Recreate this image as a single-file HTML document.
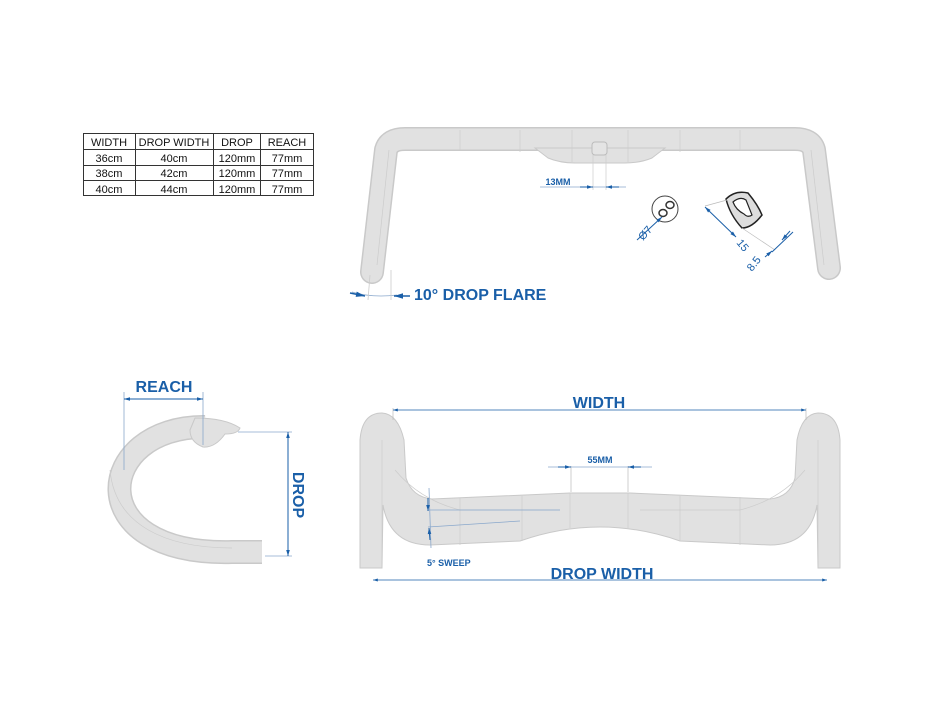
<!DOCTYPE html>
<html><head><style>
body{margin:0;background:#fff;}
svg{display:block;font-family:"Liberation Sans",sans-serif;}
</style></head><body>
<svg width="943" height="707" viewBox="0 0 943 707">
<defs>
<marker id="a" viewBox="0 0 10 10" refX="10" refY="5" markerWidth="9" markerHeight="6" orient="auto-start-reverse"><path d="M0,2 L10,5 L0,8 Z" fill="#1a5fa8"/></marker>
</defs>
<g stroke="#333" stroke-width="1" fill="none">
<rect x="83.5" y="133.5" width="230" height="62"/>
<line x1="83" y1="149.5" x2="314" y2="149.5"/><line x1="83" y1="165.5" x2="314" y2="165.5"/><line x1="83" y1="180.5" x2="314" y2="180.5"/>
<line x1="135.5" y1="133" x2="135.5" y2="196"/><line x1="213.5" y1="133" x2="213.5" y2="196"/><line x1="260.5" y1="133" x2="260.5" y2="196"/>
</g>
<g font-size="11" fill="#111" text-anchor="middle">
<text x="109" y="146">WIDTH</text><text x="174" y="146">DROP WIDTH</text><text x="237" y="146">DROP</text><text x="287" y="146">REACH</text>
<text x="109" y="162">36cm</text><text x="174" y="162">40cm</text><text x="237" y="162">120mm</text><text x="287" y="162">77mm</text>
<text x="109" y="177">38cm</text><text x="174" y="177">42cm</text><text x="237" y="177">120mm</text><text x="287" y="177">77mm</text>
<text x="109" y="193">40cm</text><text x="174" y="193">44cm</text><text x="237" y="193">120mm</text><text x="287" y="193">77mm</text>
</g>

<g fill="none" stroke-linecap="round" stroke-linejoin="round">
<path d="M372,272 L386,150 Q389,139 405,139 L795,139 Q811,139 814,150 L829,268" stroke="#c9c9c9" stroke-width="24"/>
<path d="M372,272 L386,150 Q389,139 405,139 L795,139 Q811,139 814,150 L829,268" stroke="#e1e1e1" stroke-width="21"/>
</g>
<path d="M535,148 L548,158 Q560,163 575,163 L625,163 Q640,163 652,158 L665,148 Z" fill="#e1e1e1" stroke="#c9c9c9"/>
<rect x="592" y="142" width="15" height="13" rx="3" fill="#e4e4e4" stroke="#bbb"/>
<g stroke="#ccc" stroke-width="0.7">
<line x1="460" y1="130" x2="460" y2="150"/><line x1="520" y1="130" x2="520" y2="152"/><line x1="572" y1="130" x2="572" y2="162"/><line x1="628" y1="130" x2="628" y2="162"/><line x1="680" y1="130" x2="680" y2="152"/><line x1="740" y1="130" x2="740" y2="150"/>
<line x1="593" y1="155" x2="593" y2="190"/><line x1="606" y1="155" x2="606" y2="190"/>
<line x1="389" y1="150" x2="377" y2="265"/><line x1="811" y1="150" x2="824" y2="265"/>
</g>
<line x1="540" y1="187" x2="626" y2="187" stroke="#8aa8cc" stroke-width="0.7"/>
<line x1="580" y1="187" x2="593" y2="187" stroke="#1a5fa8" marker-end="url(#a)"/>
<line x1="619" y1="187" x2="606" y2="187" stroke="#1a5fa8" marker-end="url(#a)"/>
<text x="558" y="185" font-size="9" font-weight="bold" fill="#1a5fa8" text-anchor="middle">13MM</text>
<path d="M352,292 Q372,298 397,295" fill="none" stroke="#8aa8cc" stroke-width="0.8"/>
<line x1="391" y1="270" x2="391" y2="300" stroke="#ccc" stroke-width="0.8"/>
<line x1="370" y1="275" x2="368" y2="300" stroke="#ccc" stroke-width="0.8"/>
<line x1="350" y1="293" x2="365" y2="296" stroke="#1a5fa8" stroke-width="1.5" marker-end="url(#a)"/>
<line x1="410" y1="296" x2="394" y2="296" stroke="#1a5fa8" stroke-width="1.5" marker-end="url(#a)"/>
<text x="414" y="300" font-size="16" font-weight="bold" fill="#1a5fa8">10° DROP FLARE</text>
<circle cx="665" cy="209" r="13" fill="#fff" stroke="#444"/>
<ellipse cx="670" cy="205" rx="4" ry="3.5" fill="#fff" stroke="#333" stroke-width="1.5"/>
<ellipse cx="663" cy="213" rx="4" ry="3.5" fill="#fff" stroke="#333" stroke-width="1.5"/>
<line x1="637" y1="240" x2="662" y2="217" stroke="#1a5fa8" marker-end="url(#a)"/>
<text x="0" y="0" font-size="11" fill="#1a5fa8" transform="translate(643,241) rotate(-48)">Ø7</text>
<path d="M726,199 Q735,190 748,193 Q758,205 762,215 Q752,228 742,228 Q730,215 726,199 Z" fill="#ddd" stroke="#222" stroke-width="1.5"/>
<path d="M733,202 Q740,196 746,200 L752,215 Q748,218 744,214 Q736,210 733,202 Z" fill="#fff" stroke="#222" stroke-width="1.2"/>
<line x1="705" y1="206" x2="727" y2="200" stroke="#bbb" stroke-width="0.7"/>
<line x1="742" y1="228" x2="775" y2="250" stroke="#bbb" stroke-width="0.7"/>
<line x1="705" y1="207" x2="736" y2="237" stroke="#1a5fa8" marker-start="url(#a)" marker-end="url(#a)"/>
<line x1="793" y1="232" x2="772" y2="252" stroke="#1a5fa8"/>
<line x1="790" y1="231" x2="782" y2="240" stroke="#1a5fa8" marker-end="url(#a)"/>
<line x1="765" y1="257" x2="772" y2="251" stroke="#1a5fa8" marker-end="url(#a)"/>
<text font-size="11" fill="#1a5fa8" transform="translate(736,243) rotate(50)">15</text>
<text font-size="11" fill="#1a5fa8" transform="translate(752,272) rotate(-52)">8.5</text>

<path d="M205,427 C95,426 78,556 232,552 L262,552" fill="none" stroke="#c9c9c9" stroke-width="24"/>
<path d="M205,427 C95,426 78,556 232,552 L262,552" fill="none" stroke="#e1e1e1" stroke-width="21"/>
<path d="M195,418 Q225,418 240,428 Q238,434 225,434 Q215,448 203,447 Q190,442 190,430 Z" fill="#e1e1e1" stroke="#c9c9c9"/>
<path d="M110,470 C115,525 165,548 232,548" fill="none" stroke="#ccc" stroke-width="0.7"/>
<line x1="124" y1="392" x2="124" y2="470" stroke="#8aa8cc" stroke-width="0.8"/>
<line x1="203" y1="392" x2="203" y2="445" stroke="#8aa8cc" stroke-width="0.8"/>
<line x1="124" y1="399" x2="203" y2="399" stroke="#1a5fa8" marker-start="url(#a)" marker-end="url(#a)"/>
<text x="164" y="392" font-size="16" font-weight="bold" fill="#1a5fa8" text-anchor="middle">REACH</text>
<line x1="238" y1="432" x2="292" y2="432" stroke="#8aa8cc" stroke-width="0.8"/>
<line x1="265" y1="556" x2="292" y2="556" stroke="#8aa8cc" stroke-width="0.8"/>
<line x1="288" y1="432" x2="288" y2="556" stroke="#1a5fa8" marker-start="url(#a)" marker-end="url(#a)"/>
<text font-size="16" font-weight="bold" fill="#1a5fa8" text-anchor="middle" transform="translate(293,495) rotate(90)">DROP</text>

<path d="M360,568 L360,440 Q362,413 382,413 Q398,414 404,440 L406,478 Q412,497 432,499 L570,493 L630,493 L770,499 Q790,497 795,478 L797,440 Q802,414 818,413 Q838,413 840,440 L840,568 L818,568 L817,505 Q810,545 770,545 L680,541 Q640,527 600,527 Q560,527 520,541 L430,545 Q390,545 383,505 L382,568 Z" fill="#e1e1e1" stroke="#c9c9c9"/>
<g stroke="#ccc" stroke-width="0.7" fill="none">
<line x1="382" y1="440" x2="382" y2="568"/><line x1="818" y1="440" x2="818" y2="568"/>
<line x1="460" y1="498" x2="460" y2="545"/><line x1="522" y1="496" x2="522" y2="541"/><line x1="570" y1="493" x2="570" y2="528"/><line x1="628" y1="493" x2="628" y2="528"/><line x1="680" y1="496" x2="680" y2="541"/><line x1="740" y1="497" x2="740" y2="545"/>
<path d="M395,470 Q420,500 460,510 L560,510"/>
<path d="M805,470 Q780,500 740,510 L640,510"/>
</g>
<line x1="428" y1="510" x2="560" y2="510" stroke="#8aa8cc" stroke-width="0.8"/>
<line x1="428" y1="527" x2="520" y2="521" stroke="#8aa8cc" stroke-width="0.8"/>
<line x1="429" y1="488" x2="431" y2="548" stroke="#8aa8cc" stroke-width="0.8"/>
<line x1="428" y1="498" x2="428" y2="511" stroke="#1a5fa8" marker-end="url(#a)"/>
<line x1="430" y1="540" x2="429" y2="528" stroke="#1a5fa8" marker-end="url(#a)"/>
<text x="427" y="566" font-size="9" font-weight="bold" fill="#1a5fa8">5° SWEEP</text>
<line x1="571" y1="466" x2="571" y2="492" stroke="#bbb" stroke-width="0.7"/>
<line x1="628" y1="466" x2="628" y2="492" stroke="#bbb" stroke-width="0.7"/>
<line x1="548" y1="467" x2="652" y2="467" stroke="#8aa8cc" stroke-width="0.7"/>
<line x1="558" y1="467" x2="571" y2="467" stroke="#1a5fa8" marker-end="url(#a)"/>
<line x1="641" y1="467" x2="628" y2="467" stroke="#1a5fa8" marker-end="url(#a)"/>
<text x="600" y="463" font-size="9" font-weight="bold" fill="#1a5fa8" text-anchor="middle">55MM</text>
<line x1="393" y1="408" x2="393" y2="420" stroke="#bbb" stroke-width="0.7"/>
<line x1="806" y1="408" x2="806" y2="420" stroke="#bbb" stroke-width="0.7"/>
<line x1="393" y1="410" x2="806" y2="410" stroke="#1a5fa8" stroke-width="0.8" marker-start="url(#a)" marker-end="url(#a)"/>
<text x="599" y="408" font-size="16" font-weight="bold" fill="#1a5fa8" text-anchor="middle">WIDTH</text>
<line x1="373" y1="580" x2="827" y2="580" stroke="#1a5fa8" stroke-width="0.8" marker-start="url(#a)" marker-end="url(#a)"/>
<text x="602" y="579" font-size="16" font-weight="bold" fill="#1a5fa8" text-anchor="middle">DROP WIDTH</text>
</svg>
</body></html>
